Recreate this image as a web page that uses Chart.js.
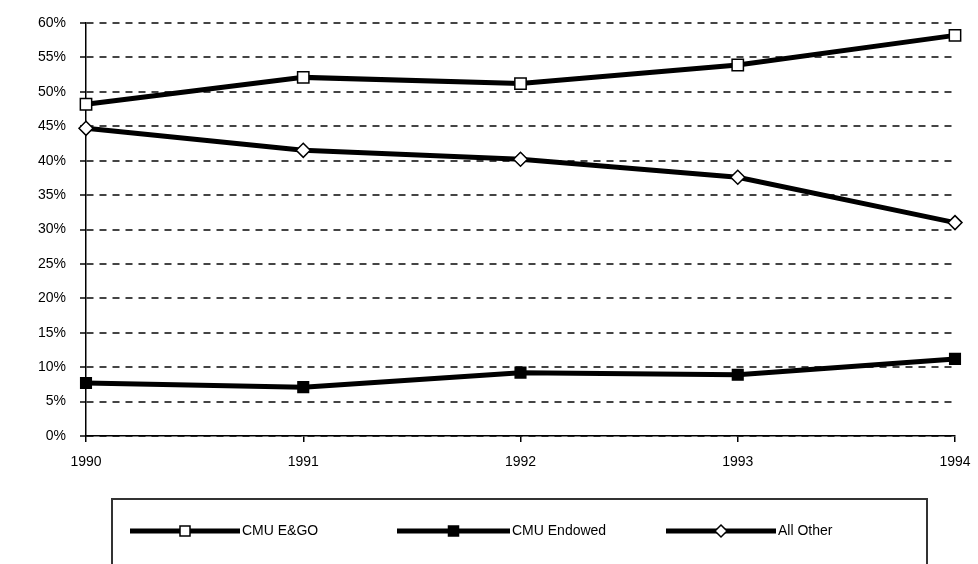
<!DOCTYPE html>
<html>
<head>
<meta charset="utf-8">
<script src="https://cdn.jsdelivr.net/npm/chart.js@4.4.1/dist/chart.umd.min.js"></script>
<style>
  html, body { margin: 0; padding: 0; background: #fff; }
  #wrap { width: 978px; height: 564px; position: relative; }
</style>
</head>
<body>
<div id="wrap"><canvas id="chart"></canvas></div>
<script>
const years = ["1990", "1991", "1992", "1993", "1994"];
const egoValues = [48.2, 52.1, 51.2, 53.9, 58.2];
const endowedValues = [7.7, 7.1, 9.2, 8.9, 11.2];
const otherValues = [44.7, 41.5, 40.2, 37.6, 31.0];
const seriesNames = ["CMU E&GO", "CMU Endowed", "All Other"];

// legend inside a framed box under the plot
const boxLegend = {
  id: "boxLegend",
  afterDraw(chart) {
    const ctx = chart.ctx;
    ctx.save();
    ctx.strokeStyle = "#333";
    ctx.lineWidth = 2;
    ctx.strokeRect(112, 499, 815, 80);

    const items = [
      { x1: 130, x2: 240 },
      { x1: 397, x2: 510 },
      { x1: 666, x2: 776 }
    ];
    const y = 531;
    chart.data.datasets.forEach((ds, i) => {
      const it = items[i];
      ctx.strokeStyle = "#000";
      ctx.lineWidth = 5;
      ctx.beginPath();
      ctx.moveTo(it.x1, y);
      ctx.lineTo(it.x2, y);
      ctx.stroke();
      const cx = (it.x1 + it.x2) / 2;
      ctx.fillStyle = ds.pointBackgroundColor;
      ctx.strokeStyle = "#000";
      ctx.lineWidth = 1.5;
      ctx.beginPath();
      if (ds.pointStyle === "rectRot") {
        ctx.moveTo(cx, y - 6); ctx.lineTo(cx + 6, y); ctx.lineTo(cx, y + 6); ctx.lineTo(cx - 6, y); ctx.closePath();
      } else {
        ctx.rect(cx - 5, y - 5, 10, 10);
      }
      ctx.fill();
      ctx.stroke();
      ctx.fillStyle = "#000";
      ctx.font = "14px 'Liberation Sans', Arial, sans-serif";
      ctx.textBaseline = "middle";
      ctx.textAlign = "left";
      ctx.fillText(ds.label, it.x2 + 2, y);
    });
    ctx.restore();
  }
};

const ctx = document.getElementById("chart");
new Chart(ctx, {
  type: "line",
  data: {
    labels: years,
    datasets: [
      { label: seriesNames[0], data: egoValues, borderColor: "#000", borderWidth: 5,
        pointStyle: "rect", pointRadius: 8, pointBackgroundColor: "#fff", pointBorderColor: "#000", pointBorderWidth: 1.5 },
      { label: seriesNames[1], data: endowedValues, borderColor: "#000", borderWidth: 5,
        pointStyle: "rect", pointRadius: 7.5, pointBackgroundColor: "#000", pointBorderColor: "#000", pointBorderWidth: 1.5 },
      { label: seriesNames[2], data: otherValues, borderColor: "#000", borderWidth: 5,
        pointStyle: "rectRot", pointRadius: 7, pointBackgroundColor: "#fff", pointBorderColor: "#000", pointBorderWidth: 1.5 }
    ]
  },
  options: {
    responsive: true,
    maintainAspectRatio: false,
    animation: false,
    layout: { padding: { left: 0, top: 23, right: 23, bottom: 0 } },
    plugins: { legend: { display: false }, tooltip: { enabled: false } },
    scales: {
      x: {
        type: "category",
        offset: false,
        afterFit: s => { s.height = 128; s.paddingRight = 0; s.paddingLeft = 0; },
        grid: { drawOnChartArea: false, drawTicks: true, tickLength: 6, color: "#000", lineWidth: 1.5 },
        border: { display: true, color: "#000", width: 1.5 },
        ticks: { color: "#000", padding: 12, maxRotation: 0,
                 font: { family: "'Liberation Sans', Arial, sans-serif", size: 14 } }
      },
      y: {
        min: 0,
        max: 60,
        afterFit: s => { s.width = 86; },
        grid: { color: "#444", lineWidth: 2, tickLength: 6, drawTicks: true },
        border: { display: true, color: "#000", width: 1.5, dash: [7, 6] },
        ticks: { stepSize: 5, color: "#000", padding: 14,
                 font: { family: "'Liberation Sans', Arial, sans-serif", size: 14 },
                 callback: v => v + "%" }
      }
    }
  },
  plugins: [boxLegend]
});
</script>
</body>
</html>
